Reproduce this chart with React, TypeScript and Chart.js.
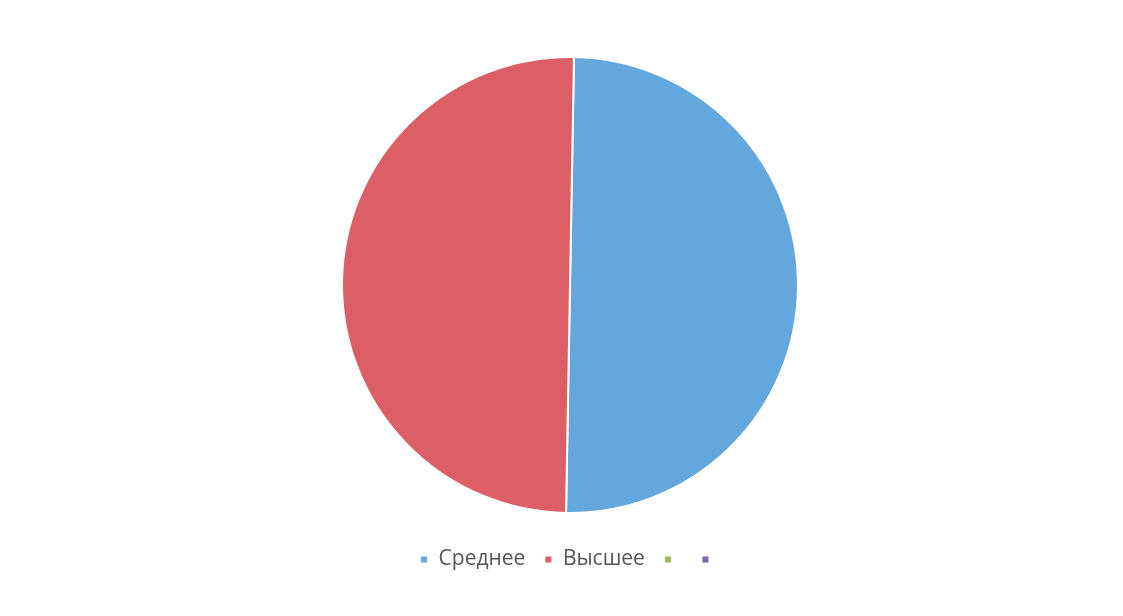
import React, { useEffect, useRef } from "react";
import { Chart, registerables } from "chart.js";

Chart.register(...registerables);

const categories = ["Среднее", "Высшее", "", ""];
const values = [50, 50, 0, 0];
const colors = ["#64A7DD", "#DC5F67", "#9BBB59", "#8064A2"];

export default function App() {
  const ref = useRef<HTMLCanvasElement | null>(null);
  useEffect(() => {
    document.body.style.margin = "0";
    document.body.style.background = "#ffffff";
    if (!ref.current) return;
    const chart = new Chart(ref.current, {
      type: "pie",
      data: {
        labels: categories,
        datasets: [
          {
            data: values,
            backgroundColor: colors,
            borderColor: "#ffffff",
            borderWidth: 2,
            radius: 228,
          },
        ],
      },
      options: {
        animation: false,
        responsive: false,
        rotation: 1,
        layout: { padding: { top: 40, bottom: 36, left: 17, right: 0 } },
        plugins: {
          tooltip: { enabled: false },
          legend: {
            position: "bottom",
            labels: {
              boxWidth: 8,
              boxHeight: 8,
              padding: 19,
              color: "#555555",
              font: { family: "'Open Sans', 'Noto Sans', sans-serif", size: 21 },
            },
          },
        },
      },
    });
    return () => chart.destroy();
  }, []);
  return (
    <div style={{ width: 1123, height: 616 }}>
      <canvas ref={ref} width={1123} height={616} style={{ display: "block" }} />
    </div>
  );
}
